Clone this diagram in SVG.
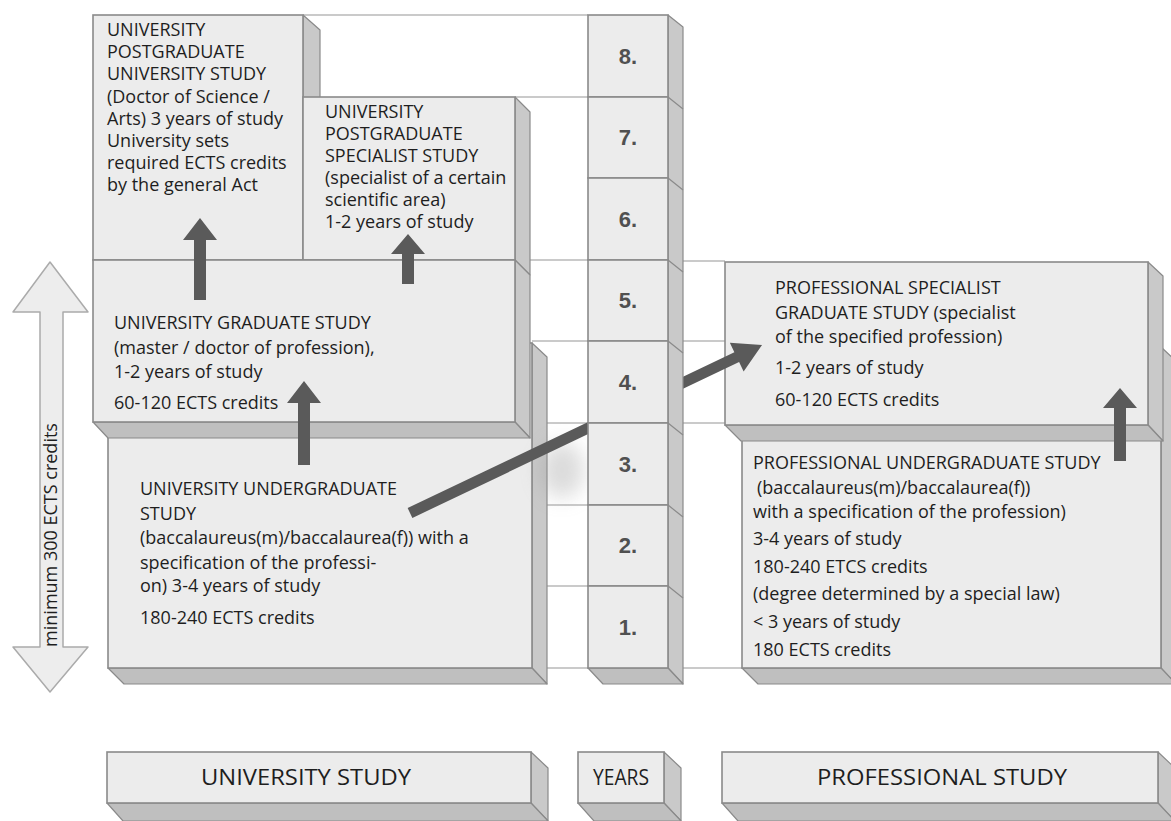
<svg xmlns="http://www.w3.org/2000/svg" width="1171" height="821" viewBox="0 0 1171 821">
<defs>
<style>
.front{fill:#ececec;stroke:#8a8a8a;stroke-width:1.6}
.side{fill:#c9c9c9;stroke:#8a8a8a;stroke-width:1.2;stroke-linejoin:round}
.bottom{fill:#bfbfbf;stroke:#8a8a8a;stroke-width:1.2;stroke-linejoin:round}
.grid{stroke:#b8b8b8;stroke-width:1.5;fill:none}
.slant{stroke:#8a8a8a;stroke-width:1.2}
.t{font-family:"Open Sans","Noto Sans",sans-serif;font-size:18px;fill:#1e1e1e}
.num{font-family:"Liberation Sans",Arial,sans-serif;font-weight:bold;font-size:22px;fill:#505050;text-anchor:middle}
.lbl{font-family:"Open Sans","Noto Sans",sans-serif;font-size:22px;fill:#1e1e1e;text-anchor:middle}
.arr{fill:#5a5a5a}
.dbl{fill:#ededed;stroke:#ababab;stroke-width:1.5;stroke-linejoin:round}
</style>
<filter id="blur" x="-100%" y="-100%" width="300%" height="300%"><feGaussianBlur stdDeviation="10"/></filter>
</defs>
<rect width="1171" height="821" fill="#ffffff"/>

<g id="gridlines">
<line class="grid" x1="303" y1="15" x2="588" y2="15"/>
<line class="grid" x1="515" y1="97" x2="588" y2="97"/>
<line class="grid" x1="530" y1="260" x2="588" y2="260"/>
<line class="grid" x1="683" y1="261" x2="725" y2="261"/>
<line class="grid" x1="532" y1="341" x2="588" y2="341"/>
<line class="grid" x1="683" y1="341" x2="725" y2="341"/>
<line class="grid" x1="547" y1="423" x2="588" y2="423"/>
<line class="grid" x1="683" y1="423" x2="725" y2="423"/>
<line class="grid" x1="547" y1="505" x2="588" y2="505"/>
<line class="grid" x1="547" y1="586" x2="588" y2="586"/>
<line class="grid" x1="547" y1="668" x2="588" y2="668"/>
<line class="grid" x1="683" y1="668" x2="742" y2="668"/>
</g>

<g id="node-doctor">
<polygon class="side" points="303,15 320,30 320,260 303,260"/>
<rect class="front" x="93" y="15" width="210" height="245"/>
<text class="t"><tspan x="107" y="36">UNIVERSITY</tspan><tspan x="107" y="58">POSTGRADUATE</tspan><tspan x="107" y="80">UNIVERSITY STUDY</tspan><tspan x="107" y="103">(Doctor of Science /</tspan><tspan x="107" y="125">Arts) 3 years of study</tspan><tspan x="107" y="147">University sets</tspan><tspan x="107" y="169">required ECTS credits</tspan><tspan x="107" y="191">by the general Act</tspan></text>
</g>

<g id="node-specialist">
<polygon class="side" points="515,97 530,112 530,275 515,260"/>
<rect class="front" x="303" y="97" width="212" height="163"/>
<text class="t"><tspan x="325" y="118">UNIVERSITY</tspan><tspan x="325" y="140">POSTGRADUATE</tspan><tspan x="325" y="162">SPECIALIST STUDY</tspan><tspan x="325" y="184">(specialist of a certain</tspan><tspan x="325" y="206">scientific area)</tspan><tspan x="325" y="228">1-2 years of study</tspan></text>
</g>

<g id="node-undergraduate">
<polygon class="side" points="532,343 547,357 547,684 532,668"/>
<polygon class="bottom" points="108,668 532,668 547,684 124,684"/>
<rect class="front" x="108" y="343" width="424" height="325"/>
<text class="t"><tspan x="140" y="495">UNIVERSITY UNDERGRADUATE</tspan><tspan x="140" y="520">STUDY</tspan><tspan x="140" y="544">(baccalaureus(m)/baccalaurea(f)) with a</tspan><tspan x="140" y="569">specification of the professi-</tspan><tspan x="140" y="592">on) 3-4 years of study</tspan><tspan x="140" y="624">180-240 ECTS credits</tspan></text>
</g>

<g id="node-graduate">
<polygon class="side" points="515,260 530,275 530,438 515,422"/>
<polygon class="bottom" points="93,422 515,422 530,438 108,438"/>
<rect class="front" x="93" y="260" width="422" height="162"/>
<text class="t"><tspan x="114" y="329">UNIVERSITY GRADUATE STUDY</tspan><tspan x="114" y="354">(master / doctor of profession),</tspan><tspan x="114" y="378">1-2 years of study</tspan><tspan x="114" y="409">60-120 ECTS credits</tspan></text>
</g>

<g id="node-prof-undergraduate">
<polygon class="side" points="1161,347 1176,361 1176,684 1161,668"/>
<polygon class="bottom" points="742,668 1161,668 1176,684 758,684"/>
<rect class="front" x="742" y="347" width="419" height="321"/>
<text class="t"><tspan x="753" y="469">PROFESSIONAL UNDERGRADUATE STUDY</tspan><tspan x="757" y="494">(baccalaureus(m)/baccalaurea(f))</tspan><tspan x="753" y="518">with a specification of the profession)</tspan><tspan x="753" y="545">3-4 years of study</tspan><tspan x="753" y="573">180-240 ETCS credits</tspan><tspan x="753" y="600">(degree determined by a special law)</tspan><tspan x="753" y="628">&lt; 3 years of study</tspan><tspan x="753" y="656">180 ECTS credits</tspan></text>
</g>

<g id="node-prof-specialist">
<polygon class="side" points="1148,262 1163,276 1163,441 1148,425"/>
<polygon class="bottom" points="725,425 1148,425 1163,441 741,441"/>
<rect class="front" x="725" y="262" width="423" height="163"/>
<text class="t"><tspan x="775" y="294">PROFESSIONAL SPECIALIST</tspan><tspan x="775" y="319">GRADUATE STUDY (specialist</tspan><tspan x="775" y="343">of the specified profession)</tspan><tspan x="775" y="374">1-2 years of study</tspan><tspan x="775" y="406">60-120 ECTS credits</tspan></text>
</g>

<ellipse cx="562" cy="470" rx="22" ry="28" fill="#9a9a9a" opacity="0.35" filter="url(#blur)"/>

<g id="connectors">
<polygon class="arr" points="194,300 194,240 183,240 200,218 217,240 206,240 206,300"/>
<polygon class="arr" points="402,284 402,254 391,254 408,234 425,254 414,254 414,284"/>
<polygon class="arr" points="298,465 298,403 287,403 304,381 321,403 310,403 310,465"/>
<polygon class="arr" points="1114,461 1114,408 1103,408 1120,388 1137,408 1126,408 1126,461"/>
<polygon class="arr" transform="translate(410,513) rotate(-25.5)" points="0,-5.5 362,-5.5 362,-16 390,0 362,16 362,5.5 0,5.5"/>
</g>

<g id="node-years">
<polygon class="side" points="668,15 683,27 683,684 668,668"/>
<polygon class="bottom" points="588,668 668,668 683,684 603,684"/>
<rect class="front" x="588" y="15" width="80" height="82"/>
<rect class="front" x="588" y="97" width="80" height="81"/>
<rect class="front" x="588" y="178" width="80" height="82"/>
<rect class="front" x="588" y="260" width="80" height="81"/>
<rect class="front" x="588" y="341" width="80" height="82"/>
<rect class="front" x="588" y="423" width="80" height="82"/>
<rect class="front" x="588" y="505" width="80" height="81"/>
<rect class="front" x="588" y="586" width="80" height="82"/>
<line class="slant" x1="668" y1="97" x2="683" y2="109"/>
<line class="slant" x1="668" y1="178" x2="683" y2="190"/>
<line class="slant" x1="668" y1="260" x2="683" y2="272"/>
<line class="slant" x1="668" y1="341" x2="683" y2="353"/>
<line class="slant" x1="668" y1="423" x2="683" y2="435"/>
<line class="slant" x1="668" y1="505" x2="683" y2="517"/>
<line class="slant" x1="668" y1="586" x2="683" y2="598"/>
<text class="num" x="628" y="64">8.</text>
<text class="num" x="628" y="145">7.</text>
<text class="num" x="628" y="227">6.</text>
<text class="num" x="628" y="308">5.</text>
<text class="num" x="628" y="390">4.</text>
<text class="num" x="628" y="472">3.</text>
<text class="num" x="628" y="553">2.</text>
<text class="num" x="628" y="635">1.</text>
</g>

<g id="node-ects">
<polygon class="dbl" points="50,262 88,312 63,312 63,647 88,647 50,692 13,647 40,647 40,312 13,312"/>
<text class="t" font-size="16.5" text-anchor="middle" transform="translate(57,535) rotate(-90)">minimum 300 ECTS credits</text>
</g>

<g id="node-label-university">
<polygon class="side" points="531,752 548,768 548,821 531,803"/>
<polygon class="bottom" points="107,803 531,803 548,821 123,821"/>
<rect class="front" x="107" y="752" width="424" height="51"/>
<text class="lbl" x="306" y="785" textLength="210" lengthAdjust="spacingAndGlyphs">UNIVERSITY STUDY</text>
</g>
<g id="node-label-years">
<polygon class="side" points="664,752 681,768 681,821 664,803"/>
<polygon class="bottom" points="578,803 664,803 681,821 594,821"/>
<rect class="front" x="578" y="752" width="86" height="51"/>
<text class="lbl" x="621" y="785" textLength="56" lengthAdjust="spacingAndGlyphs">YEARS</text>
</g>
<g id="node-label-professional">
<polygon class="side" points="1158,752 1175,768 1175,821 1158,803"/>
<polygon class="bottom" points="722,803 1158,803 1175,821 738,821"/>
<rect class="front" x="722" y="752" width="436" height="51"/>
<text class="lbl" x="942" y="785" textLength="250" lengthAdjust="spacingAndGlyphs">PROFESSIONAL STUDY</text>
</g>
</svg>
